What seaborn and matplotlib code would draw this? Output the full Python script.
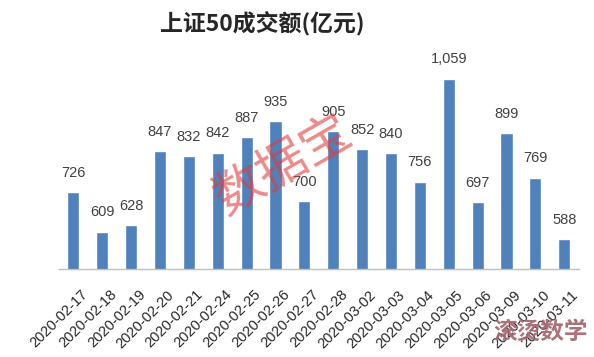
import numpy as np
import pandas as pd
import seaborn as sns
import matplotlib
matplotlib.use("Agg")
from matplotlib import pyplot as plt
from matplotlib import transforms

# veriler
dates = ["2020-02-17", "2020-02-18", "2020-02-19", "2020-02-20", "2020-02-21",
         "2020-02-24", "2020-02-25", "2020-02-26", "2020-02-27", "2020-02-28",
         "2020-03-02", "2020-03-03", "2020-03-04", "2020-03-05", "2020-03-06",
         "2020-03-09", "2020-03-10", "2020-03-11"]
amounts = [726, 609, 628, 847, 832, 842, 887, 935, 700, 905,
           852, 840, 756, 1059, 697, 899, 769, 588]
title = "上证50成交额(亿元)"

df = pd.DataFrame({"date": dates, "amount": amounts})

sns.set_style("white")
plt.rcParams['font.family'] = ['Noto Sans CJK SC', 'DejaVu Sans']

fig = plt.figure(figsize=(5.94, 3.57), dpi=100)
ax = fig.add_axes([0.0993, 0.2465, 0.875, 0.5714])

sns.barplot(data=df, x="date", y="amount", color="#4F81BD", saturation=1,
            width=0.42, ax=ax)

ax.set_ylim(500, 1100)
ax.set_xlim(-0.5, len(dates) - 0.5)
ax.set_xlabel("")
ax.set_ylabel("")
ax.set_yticks([])
for s in ["top", "right", "left"]:
    ax.spines[s].set_visible(False)
ax.spines["bottom"].set_color("#bfbfbf")
ax.spines["bottom"].set_linewidth(1)

ax.tick_params(axis="x", length=0, pad=4)
# tarih etiketleri biraz sağa ve aşağı kaydırılıyor
offset = transforms.ScaledTranslation(0.07, -0.13, fig.dpi_scale_trans)
for lab in ax.get_xticklabels():
    lab.set_rotation(45)
    lab.set_ha("right")
    lab.set_rotation_mode("anchor")
    lab.set_fontsize(10.5)
    lab.set_color("#262626")
    lab.set_family(["Liberation Sans", "DejaVu Sans"])
    lab.set_transform(lab.get_transform() + offset)

# bar etiketleri
for i, v in enumerate(amounts):
    ax.annotate(f"{v:,}", (i, v), xytext=(0, 9), textcoords="offset points",
                ha="center", va="bottom", fontsize=10.5, color="#404040",
                family=["Liberation Sans", "DejaVu Sans"])

fig.text(0.441, 0.935, title, ha="center", va="center", fontsize=16.5,
         fontweight="bold", color="#262626")

# filigranlar
fig.text(0.476, 0.535, "数据宝", ha="center", va="center", fontsize=36,
         rotation=30, color="#e03c3c", alpha=0.6)
fig.text(0.91, 0.07, "滚烫数学", ha="center", va="center", fontsize=17,
         fontweight="bold", color="#a86a72", alpha=0.95)

fig.savefig("out.png", dpi=100)
